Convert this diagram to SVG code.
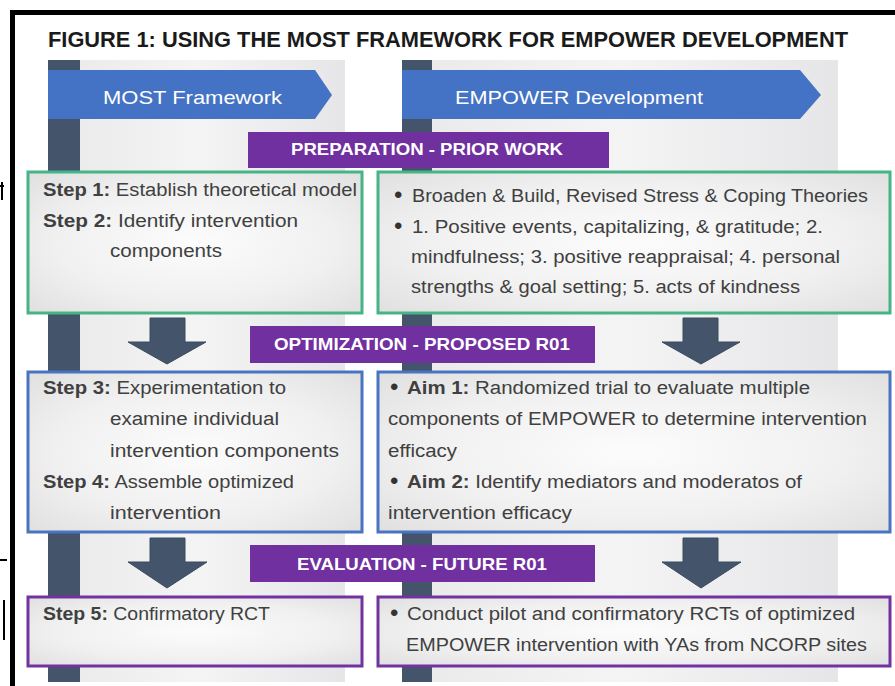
<svg xmlns="http://www.w3.org/2000/svg" width="895" height="686" viewBox="0 0 895 686">
<defs>
<linearGradient id="panel" x1="0" y1="0" x2="1" y2="0">
<stop offset="0" stop-color="#e9e9ea"/>
<stop offset="0.5" stop-color="#f4f4f5"/>
<stop offset="1" stop-color="#e6e6e8"/>
</linearGradient>
<radialGradient id="boxfill" cx="0.5" cy="0.5" r="0.7">
<stop offset="0" stop-color="#fcfcfc"/>
<stop offset="0.6" stop-color="#f0f0f0"/>
<stop offset="1" stop-color="#e0e0e1"/>
</radialGradient>
<style>
.title{font-family:"Liberation Sans",Arial,sans-serif;font-weight:bold;font-size:22px;fill:#1a1a1a}
.hdr{font-family:"Liberation Sans",Arial,sans-serif;font-size:19px;fill:#ffffff}
.ban{font-family:"Liberation Sans",Arial,sans-serif;font-weight:bold;font-size:17px;fill:#ffffff}
.t{font-family:"Liberation Sans",Arial,sans-serif;font-size:18px;fill:#404040}
.b{font-weight:bold}
.bul{font-family:"Liberation Sans",Arial,sans-serif;font-size:24px;fill:#333333}
.box{fill:url(#boxfill);stroke-width:3}
.green{stroke:#47b485}
.blue{stroke:#4a74c0}
.purple{stroke:#7232a0}
.bar{fill:#44546a}
.arrow{fill:#44546a;stroke:#3a4a5e;stroke-width:1}
</style>
</defs>
<rect x="0" y="0" width="895" height="686" fill="#ffffff"/>
<!-- frame -->
<rect x="10" y="10" width="885" height="5" fill="#000000"/>
<rect x="10" y="10" width="5" height="676" fill="#000000"/>
<path d="M0 186 L4 186 M2 182 L2 200 M0 560 L7 560 M4 600 L4 640" stroke="#000" stroke-width="2" fill="none"/>

<g id="title"><text class="title" x="48" y="47" textLength="800" lengthAdjust="spacingAndGlyphs">FIGURE 1: USING THE MOST FRAMEWORK FOR EMPOWER DEVELOPMENT</text></g>

<g id="columns">
<rect x="48" y="60" width="297" height="622" fill="url(#panel)"/>
<rect x="402" y="60" width="436" height="622" fill="url(#panel)"/>
<rect class="bar" x="48" y="60" width="32" height="622"/>
<rect class="bar" x="402" y="60" width="30" height="622"/>
</g>

<g id="hdr-most">
<polygon points="48,70 315,70 332,95 315,119 48,119" fill="#4472c4"/>
<text class="hdr" x="103" y="104" textLength="179" lengthAdjust="spacingAndGlyphs">MOST Framework</text>
</g>
<g id="hdr-empower">
<polygon points="402,70 800,70 821,95 800,119 402,119" fill="#4472c4"/>
<text class="hdr" x="455" y="104" textLength="248" lengthAdjust="spacingAndGlyphs">EMPOWER Development</text>
</g>

<g id="banner-prep">
<rect x="248" y="132" width="361" height="36" fill="#7030a0"/>
<text class="ban" x="291" y="155" textLength="272" lengthAdjust="spacingAndGlyphs">PREPARATION - PRIOR WORK</text>
</g>
<g id="banner-opt">
<rect x="250" y="326" width="345" height="37" fill="#7030a0"/>
<text class="ban" x="274" y="350" textLength="296" lengthAdjust="spacingAndGlyphs">OPTIMIZATION - PROPOSED R01</text>
</g>
<g id="banner-eval">
<rect x="250" y="545" width="345" height="37" fill="#7030a0"/>
<text class="ban" x="297" y="570" textLength="250" lengthAdjust="spacingAndGlyphs">EVALUATION - FUTURE R01</text>
</g>

<g id="connectors">
<polygon class="arrow" points="150,318 185,318 185,342 206,342 167,364 128,342 150,342"/>
<polygon class="arrow" points="683,318 718,318 718,342 740,342 701,364 662,342 683,342"/>
<polygon class="arrow" points="150,538 185,538 185,562 207,562 167,588 128,562 150,562"/>
<polygon class="arrow" points="683,538 718,538 718,562 741,562 701,588 662,562 683,562"/>
</g>

<g id="step12">
<rect class="box green" x="28" y="172" width="334" height="141"/>
<text class="t" x="43" y="196" textLength="314" lengthAdjust="spacingAndGlyphs"><tspan class="b">Step 1:</tspan> Establish theoretical model</text>
<text class="t" x="43" y="227" textLength="255" lengthAdjust="spacingAndGlyphs"><tspan class="b">Step 2:</tspan> Identify intervention</text>
<text class="t" x="110" y="257" textLength="112" lengthAdjust="spacingAndGlyphs">components</text>
</g>

<g id="prior-work">
<rect class="box green" x="378" y="172" width="512" height="141"/>
<text class="bul" x="394" y="203">•</text>
<text class="t" x="412" y="202" textLength="456" lengthAdjust="spacingAndGlyphs">Broaden &amp; Build, Revised Stress &amp; Coping Theories</text>
<text class="bul" x="394" y="234">•</text>
<text class="t" x="412" y="233" textLength="411" lengthAdjust="spacingAndGlyphs">1. Positive events, capitalizing, &amp; gratitude; 2.</text>
<text class="t" x="411" y="263" textLength="429" lengthAdjust="spacingAndGlyphs">mindfulness; 3. positive reappraisal; 4. personal</text>
<text class="t" x="411" y="293" textLength="389" lengthAdjust="spacingAndGlyphs">strengths &amp; goal setting; 5. acts of kindness</text>
</g>

<g id="step34">
<rect class="box blue" x="28" y="372" width="334" height="160"/>
<text class="t" x="43" y="394" textLength="243" lengthAdjust="spacingAndGlyphs"><tspan class="b">Step 3:</tspan> Experimentation to</text>
<text class="t" x="110" y="425" textLength="169" lengthAdjust="spacingAndGlyphs">examine individual</text>
<text class="t" x="110" y="457" textLength="229" lengthAdjust="spacingAndGlyphs">intervention components</text>
<text class="t" x="43" y="488" textLength="251" lengthAdjust="spacingAndGlyphs"><tspan class="b">Step 4:</tspan> Assemble optimized</text>
<text class="t" x="110" y="519" textLength="111" lengthAdjust="spacingAndGlyphs">intervention</text>
</g>

<g id="aims">
<rect class="box blue" x="378" y="372" width="512" height="160"/>
<text class="bul" x="390" y="395">•</text>
<text class="t" x="407" y="394" textLength="403" lengthAdjust="spacingAndGlyphs"><tspan class="b">Aim 1:</tspan> Randomized trial to evaluate multiple</text>
<text class="t" x="388" y="425" textLength="479" lengthAdjust="spacingAndGlyphs">components of EMPOWER to determine intervention</text>
<text class="t" x="388" y="457" textLength="69" lengthAdjust="spacingAndGlyphs">efficacy</text>
<text class="bul" x="390" y="489">•</text>
<text class="t" x="407" y="488" textLength="395" lengthAdjust="spacingAndGlyphs"><tspan class="b">Aim 2:</tspan> Identify mediators and moderatos of</text>
<text class="t" x="388" y="519" textLength="184" lengthAdjust="spacingAndGlyphs">intervention efficacy</text>
</g>

<g id="step5">
<rect class="box purple" x="28" y="597" width="334" height="69"/>
<text class="t" x="43" y="620" textLength="227" lengthAdjust="spacingAndGlyphs"><tspan class="b">Step 5:</tspan> Confirmatory RCT</text>
</g>

<g id="future">
<rect class="box purple" x="378" y="597" width="512" height="69"/>
<text class="bul" x="390" y="621">•</text>
<text class="t" x="407" y="620" textLength="448" lengthAdjust="spacingAndGlyphs">Conduct pilot and confirmatory RCTs of optimized</text>
<text class="t" x="406" y="651" textLength="461" lengthAdjust="spacingAndGlyphs">EMPOWER intervention with YAs from NCORP sites</text>
</g>
</svg>
